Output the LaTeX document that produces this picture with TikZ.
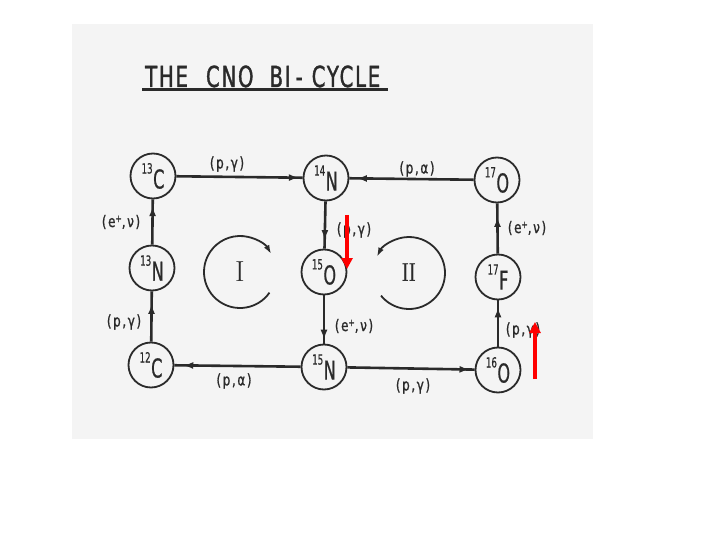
\documentclass[tikz,border=0pt]{standalone}
\usepackage{fontspec}
\newfontfamily\lett[FakeStretch=0.62,FakeBold=0.6]{DejaVu Sans}
\newfontfamily\lblfont[FakeStretch=0.75,LetterSpace=10,FakeBold=1]{DejaVu Sans}
\newfontfamily\ttlfont[FakeStretch=0.68,LetterSpace=6,FakeBold=1.2]{DejaVu Sans}
\usetikzlibrary{arrows.meta,decorations.markings}
\definecolor{ink}{HTML}{2A2A2A}
\definecolor{paper}{HTML}{F4F4F4}
\newcommand{\nuc}[2]{\raisebox{15pt}{\fontsize{14}{14}\selectfont #1}\kern0.5pt#2}
\newcommand{\eplus}{(e\raisebox{5pt}{\fontsize{10}{10}\selectfont +},ν)}
\begin{document}
\begin{tikzpicture}[x=1pt,y=-1pt,
  nucbox/.style={circle,draw=ink,line width=1.8pt,minimum size=45pt,inner sep=0pt,
    font=\lett\fontsize{26}{26}\selectfont,text=ink},
  lbl/.style={font=\lblfont\fontsize{16}{16}\selectfont,text=ink,inner sep=0pt},
  conn/.style={draw=ink,line width=2.6pt},
  tipat/.style={postaction={decorate},decoration={markings,
    mark=at position #1 with {\arrow{Latex[length=10pt,width=7pt]}}}},
  cyc/.style={draw=ink,line width=1.8pt,-{Latex[length=9pt,width=6pt]}},
  redarrow/.style={draw=red,line width=3.5pt,-{Triangle[length=11pt,width=11pt]}}
]
\useasboundingbox (0,0) rectangle (720,540);
\fill[paper] (72,24) rectangle (593,439);

% title
\node[anchor=base west,inner sep=0pt,font=\ttlfont\fontsize{29}{29}\selectfont,text=ink] (title) at (145,87)
  {THE\hspace{18pt}CNO\hspace{16pt}BI\hspace{5pt}-\hspace{9pt}CYCLE};
\draw[ink,line width=3pt] (142,90) -- (388,90);

% nuclei
\node[nucbox] (c13) at (153,176) {\nuc{13}{C}};
\node[nucbox] (n14) at (326,178) {\nuc{14}{N}};
\node[nucbox] (o17) at (497,180) {\nuc{17}{O}};
\node[nucbox] (n13) at (152,268) {\nuc{13}{N}};
\node[nucbox] (o15) at (324,272) {\nuc{15}{O}};
\node[nucbox] (f17) at (498,277) {\nuc{17}{F}};
\node[nucbox] (c12) at (151,365) {\nuc{12}{C}};
\node[nucbox] (n15) at (324,367) {\nuc{15}{N}};
\node[nucbox] (o16) at (498,370) {\nuc{16}{O}};

% reactions
\draw[conn,tipat=0.97] (c13) -- (n14);
\draw[conn,tipat=0.94] (o17) -- (n14);
\draw[conn,tipat=0.85] (n13) -- (c13);
\draw[conn,tipat=0.82] (n14) -- (o15);
\draw[conn,tipat=0.73] (f17) -- (o17);
\draw[conn,tipat=0.75] (c12) -- (n13);
\draw[conn,tipat=0.92] (o15) -- (n15);
\draw[conn,tipat=0.85] (o16) -- (f17);
\draw[conn,tipat=0.96] (n15) -- (o16);
\draw[conn,tipat=0.93] (n15) -- (c12);

% labels
\node[lbl] (l1) at (227,164) {(p,γ)};
\node[lbl] (l2) at (417,169) {(p,α)};
\node[lbl] (l3) at (121,222) {\eplus};
\node[lbl] (l4) at (354,230) {(p,γ)};
\node[lbl] (l5) at (527,228) {\eplus};
\node[lbl] (l6) at (124,322) {(p,γ)};
\node[lbl] (l7) at (354,326) {\eplus};
\node[lbl] (l8) at (523,330) {(p,γ)};
\node[lbl] (l9) at (234,381) {(p,α)};
\node[lbl] (l10) at (413,386) {(p,γ)};

% cycles
\coordinate (cI) at (240,272);
\coordinate (cII) at (409,273);
\draw[cyc] (cI) ++(35:36) arc[start angle=35,end angle=330,radius=36];
\draw[cyc] (cII) ++(141:36) arc[start angle=141,end angle=-153,radius=36];
\node[inner sep=0pt,font=\fontsize{29}{29}\selectfont,text=ink] (rI) at (cI) {I};
\node[inner sep=0pt,font=\bfseries\fontsize{26}{26}\selectfont,text=ink] (rII) at (cII) {\scalebox{0.6}[1]{II}};

% red annotation arrows
\coordinate (ra1) at (347,215);
\coordinate (rb1) at (347,269);
\coordinate (ra2) at (535,379);
\coordinate (rb2) at (535,322);
\draw[redarrow] (ra1) -- (rb1);
\draw[redarrow] (ra2) -- (rb2);
\end{tikzpicture}
\end{document}
